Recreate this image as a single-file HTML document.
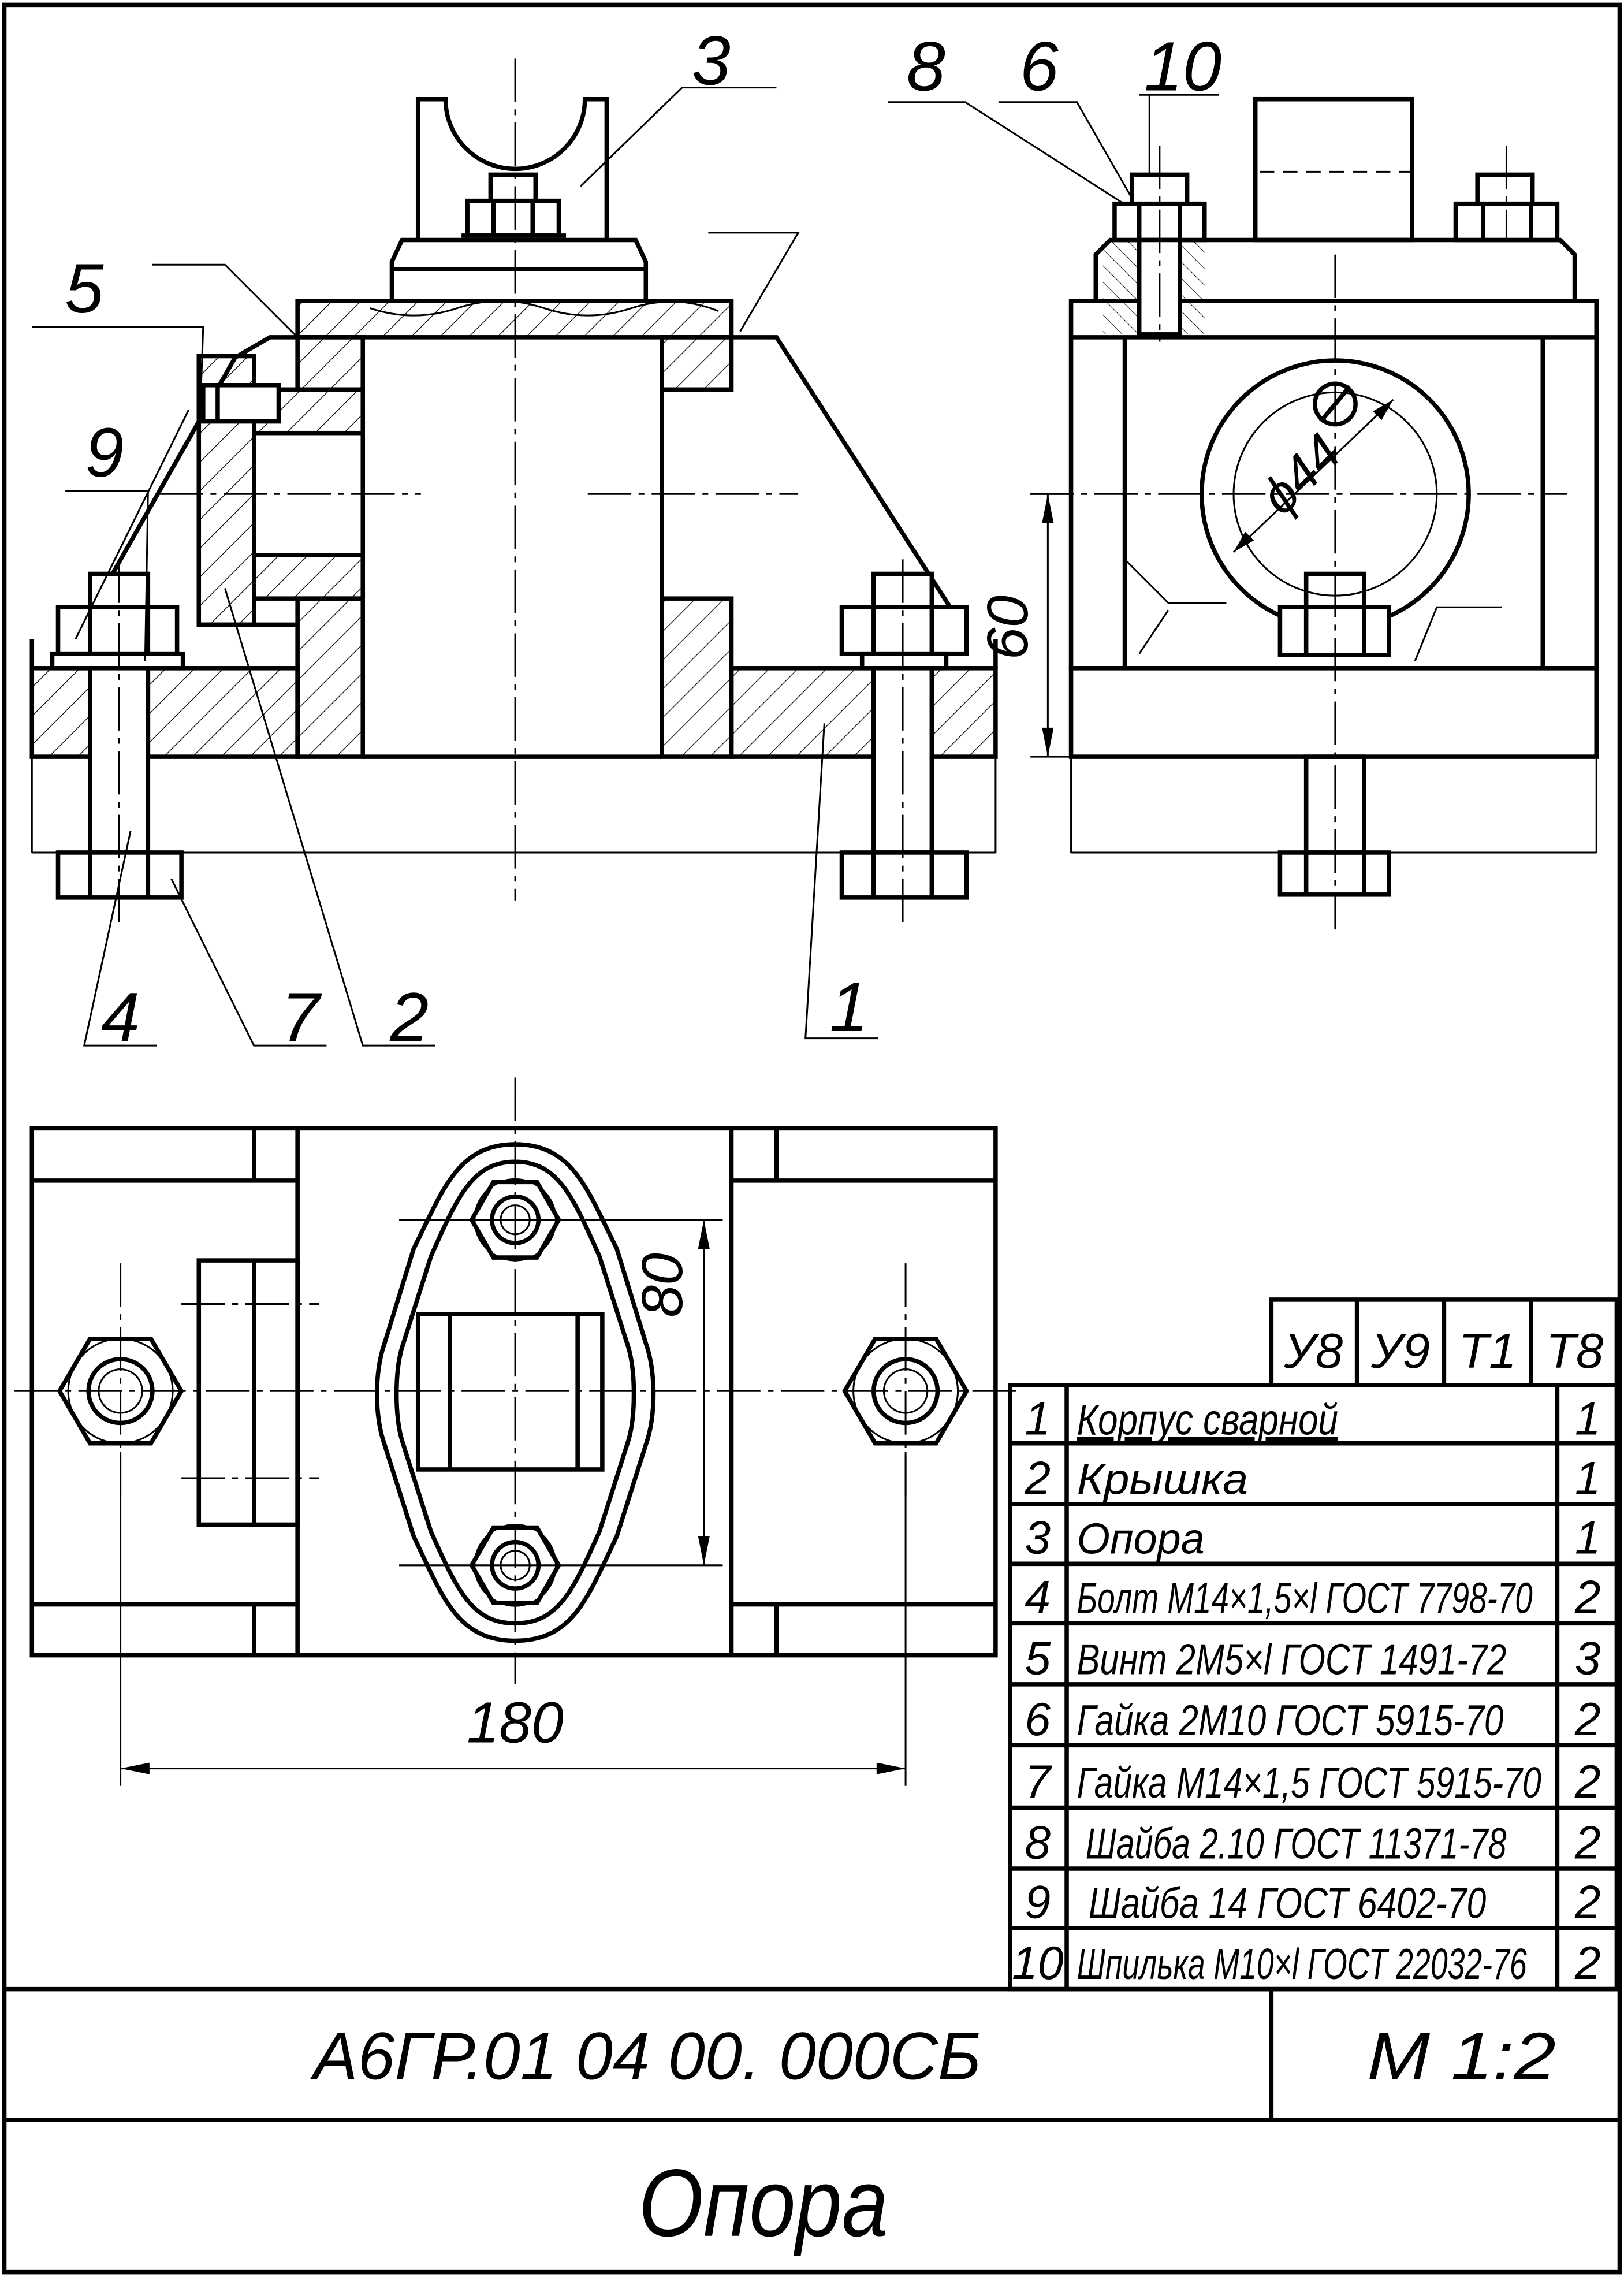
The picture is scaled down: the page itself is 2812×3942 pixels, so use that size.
<!DOCTYPE html>
<html><head><meta charset="utf-8">
<style>
html,body{margin:0;padding:0;background:#fff;}
svg{display:block;}
text{font-family:"Liberation Sans","DejaVu Sans",sans-serif;font-style:italic;fill:#000;}
</style></head><body>
<svg width="2812" height="3942" viewBox="0 0 1119 1568" xmlns="http://www.w3.org/2000/svg">
<defs>
<pattern id="h" width="14" height="14" patternUnits="userSpaceOnUse" patternTransform="rotate(45)">
<line x1="0" y1="0" x2="0" y2="14" stroke="#000" stroke-width="1"/>
</pattern>
<pattern id="h2" width="8" height="8" patternUnits="userSpaceOnUse" patternTransform="rotate(-45)">
<line x1="0" y1="0" x2="0" y2="8" stroke="#000" stroke-width="0.8"/>
</pattern>
</defs>
<rect width="1119" height="1568" fill="#fff"/>
<g fill="none" stroke="#000" stroke-width="3">
<rect x="3" y="3" width="1113" height="1562"/>
<line x1="3" y1="1370" x2="1116" y2="1370"/>
<line x1="3" y1="1460" x2="1116" y2="1460"/>
<line x1="876" y1="1370" x2="876" y2="1460"/>
</g>
<text x="216" y="1432" font-size="46" textLength="460" lengthAdjust="spacingAndGlyphs">А6ГР.01 04  00.  000СБ</text>
<text x="942" y="1432" font-size="46" textLength="130" lengthAdjust="spacingAndGlyphs">М   1:2</text>
<text x="440" y="1540" font-size="66" textLength="172" lengthAdjust="spacingAndGlyphs">Опора</text>

<!-- parts table -->
<g fill="none" stroke="#000" stroke-width="3">
<rect x="696" y="954" width="418" height="416"/>
<line x1="735" y1="954" x2="735" y2="1370"/>
<line x1="1073" y1="954" x2="1073" y2="1370"/>
<line x1="696" y1="994" x2="1114" y2="994"/>
<line x1="696" y1="1036" x2="1114" y2="1036"/>
<line x1="696" y1="1077" x2="1114" y2="1077"/>
<line x1="696" y1="1118" x2="1114" y2="1118"/>
<line x1="696" y1="1160" x2="1114" y2="1160"/>
<line x1="696" y1="1202" x2="1114" y2="1202"/>
<line x1="696" y1="1245" x2="1114" y2="1245"/>
<line x1="696" y1="1287" x2="1114" y2="1287"/>
<line x1="696" y1="1328" x2="1114" y2="1328"/>
<rect x="876" y="895" width="238" height="59"/>
<line x1="935" y1="895" x2="935" y2="954"/>
<line x1="995" y1="895" x2="995" y2="954"/>
<line x1="1055" y1="895" x2="1055" y2="954"/>
</g>
<g font-size="34" text-anchor="middle">
<text x="905" y="942">У8</text><text x="965" y="942">У9</text><text x="1025" y="942">Т1</text><text x="1085" y="942">Т8</text>
</g>
<g font-size="32" text-anchor="middle">
<text x="715" y="988">1</text><text x="715" y="1029">2</text><text x="715" y="1070">3</text><text x="715" y="1111">4</text><text x="715" y="1153">5</text><text x="715" y="1195">6</text><text x="715" y="1238">7</text><text x="715" y="1280">8</text><text x="715" y="1321">9</text><text x="715" y="1363">10</text>
<text x="1094" y="988">1</text><text x="1094" y="1029">1</text><text x="1094" y="1070">1</text><text x="1094" y="1111">2</text><text x="1094" y="1153">3</text><text x="1094" y="1195">2</text><text x="1094" y="1238">2</text><text x="1094" y="1280">2</text><text x="1094" y="1321">2</text><text x="1094" y="1363">2</text>
</g>
<g font-size="30">
<text x="742" y="988" textLength="180" lengthAdjust="spacingAndGlyphs" text-decoration="underline">Корпус сварной</text>
<text x="742" y="1029" textLength="118" lengthAdjust="spacingAndGlyphs">Крышка</text>
<text x="742" y="1070" textLength="88" lengthAdjust="spacingAndGlyphs">Опора</text>
<text x="742" y="1111" textLength="314" lengthAdjust="spacingAndGlyphs">Болт М14×1,5×l ГОСТ 7798-70</text>
<text x="742" y="1153" textLength="296" lengthAdjust="spacingAndGlyphs">Винт 2М5×l ГОСТ 1491-72</text>
<text x="742" y="1195" textLength="294" lengthAdjust="spacingAndGlyphs">Гайка 2М10 ГОСТ 5915-70</text>
<text x="742" y="1238" textLength="320" lengthAdjust="spacingAndGlyphs">Гайка М14×1,5 ГОСТ 5915-70</text>
<text x="748" y="1280" textLength="290" lengthAdjust="spacingAndGlyphs">Шайба 2.10 ГОСТ 11371-78</text>
<text x="750" y="1321" textLength="274" lengthAdjust="spacingAndGlyphs">Шайба 14 ГОСТ 6402-70</text>
<text x="742" y="1363" textLength="310" lengthAdjust="spacingAndGlyphs">Шпилька М10×l ГОСТ 22032-76</text>
</g>

<!-- FRONT VIEW -->
<g stroke="#000" stroke-width="3">
<g fill="url(#h)">
<rect x="22" y="460" width="40" height="61"/>
<rect x="102" y="460" width="103" height="61"/>
<rect x="205" y="412" width="45" height="109"/>
<rect x="456" y="412" width="48" height="109"/>
<rect x="504" y="460" width="98" height="61"/>
<rect x="642" y="460" width="44" height="61"/>
<rect x="205" y="207" width="299" height="25"/>
<rect x="205" y="232" width="45" height="36"/>
<rect x="456" y="232" width="48" height="36"/>
<rect x="175" y="268" width="75" height="30"/>
<rect x="175" y="382" width="75" height="30"/>
<rect x="137" y="245" width="38" height="185"/>
</g>
<g fill="none">
<line x1="250" y1="232" x2="250" y2="521"/>
<line x1="456" y1="232" x2="456" y2="521"/>
<line x1="250" y1="521" x2="456" y2="521"/>
<line x1="175" y1="298" x2="175" y2="430"/>
<line x1="137" y1="430" x2="205" y2="430"/>
<line x1="456" y1="268" x2="456" y2="412"/>
<polyline points="205,232 186,232 162,246 52,440"/>
<polyline points="504,232 535,232 656,420"/>
<line x1="22" y1="460" x2="22" y2="440"/>
<line x1="686" y1="460" x2="686" y2="440"/>
<polygon points="270,207 445,207 445,180 438,165 277,165 270,180" fill="#fff"/>
<line x1="270" y1="185" x2="445" y2="185"/>
<path d="M288,165 V68 H307 A48,48 0 0 0 403,68 H418 V165"/>
<rect x="322" y="138" width="63" height="24" fill="#fff"/>
<line x1="340" y1="138" x2="340" y2="162"/><line x1="367" y1="138" x2="367" y2="162"/>
<rect x="338" y="120" width="31" height="18" fill="#fff"/>
<line x1="318" y1="162" x2="390" y2="162"/>
<rect x="62" y="395" width="40" height="23" fill="#fff"/>
<rect x="40" y="418" width="82" height="32" fill="#fff"/>
<line x1="62" y1="418" x2="62" y2="450"/><line x1="102" y1="418" x2="102" y2="450"/>
<rect x="36" y="450" width="90" height="10" fill="#fff"/>
<rect x="62" y="460" width="40" height="127" fill="#fff"/>
<rect x="40" y="587" width="85" height="31" fill="#fff"/>
<line x1="62" y1="587" x2="62" y2="618"/><line x1="102" y1="587" x2="102" y2="618"/>
<rect x="602" y="395" width="40" height="23" fill="#fff"/>
<rect x="580" y="418" width="86" height="32" fill="#fff"/>
<line x1="602" y1="418" x2="602" y2="450"/><line x1="642" y1="418" x2="642" y2="450"/>
<rect x="594" y="450" width="58" height="10" fill="#fff"/>
<rect x="602" y="460" width="40" height="127" fill="#fff"/>
<rect x="580" y="587" width="86" height="31" fill="#fff"/>
<line x1="602" y1="587" x2="602" y2="618"/><line x1="642" y1="587" x2="642" y2="618"/>
<rect x="140" y="265" width="52" height="25" fill="#fff"/>
<line x1="150" y1="265" x2="150" y2="290"/>
</g>
</g>
<g stroke="#000" stroke-width="1.2" fill="none">
<line x1="22" y1="521" x2="22" y2="587"/><line x1="686" y1="521" x2="686" y2="587"/>
<line x1="22" y1="587" x2="686" y2="587"/>
<path d="M255,212 q30,10 60,0 t60,0 t60,0 t60,2" />
<g stroke-dasharray="30,5,4,5">
<line x1="355" y1="40" x2="355" y2="620"/>
<line x1="82" y1="385" x2="82" y2="640"/>
<line x1="622" y1="385" x2="622" y2="640"/>
<line x1="110" y1="340" x2="290" y2="340"/>
<line x1="405" y1="340" x2="550" y2="340"/>
</g>
<polyline points="400,128 470,60 535,60"/>
<polyline points="22,225 140,225 138,282"/>
<polyline points="105,182 155,182 205,232"/>
<polyline points="510,228 550,160 488,160"/>
<polyline points="45,338 102,338 100,455"/>
<line x1="130" y1="282" x2="52" y2="440"/>
<polyline points="90,572 58,720 108,720"/>
<polyline points="118,605 175,720 225,720"/>
<polyline points="155,405 250,720 300,720"/>
<polyline points="568,498 555,715 605,715"/>
<polyline points="612,70 665,70 790,150"/>
<polyline points="688,70 742,70 785,145"/>
<polyline points="785,65 840,65"/><line x1="792" y1="65" x2="792" y2="128"/>
</g>
<g font-size="48" text-anchor="middle">
<text x="490" y="58">3</text><text x="638" y="62">8</text><text x="716" y="62">6</text><text x="815" y="62">10</text>
<text x="58" y="215">5</text><text x="72" y="328">9</text>
<text x="83" y="717">4</text><text x="207" y="717">7</text><text x="282" y="717">2</text><text x="585" y="710">1</text>
</g>

<!-- SIDE VIEW -->
<g stroke="#000" stroke-width="3" fill="none">
<rect x="738" y="460" width="362" height="61"/>
<rect x="738" y="207" width="362" height="253"/>
<line x1="775" y1="232" x2="775" y2="460"/><line x1="1063" y1="232" x2="1063" y2="460"/>
<line x1="738" y1="232" x2="1100" y2="232"/>
<polygon points="755,207 1085,207 1085,175 1075,165 765,165 755,175" fill="#fff"/>
<rect x="865" y="68" width="108" height="97"/>
<circle cx="920" cy="340" r="92"/>
<circle cx="920" cy="278" r="14" fill="#fff"/>
<line x1="910" y1="290" x2="930" y2="266"/>
<rect x="768" y="140" width="62" height="25" fill="#fff"/>
<line x1="785" y1="140" x2="785" y2="165"/><line x1="813" y1="140" x2="813" y2="165"/>
<rect x="780" y="120" width="38" height="20" fill="#fff"/>
<rect x="1003" y="140" width="70" height="25" fill="#fff"/>
<line x1="1022" y1="140" x2="1022" y2="165"/><line x1="1055" y1="140" x2="1055" y2="165"/>
<rect x="1018" y="120" width="38" height="20" fill="#fff"/>
<rect x="900" y="395" width="40" height="23" fill="#fff"/>
<rect x="882" y="418" width="75" height="33" fill="#fff"/>
<line x1="900" y1="418" x2="900" y2="451"/><line x1="940" y1="418" x2="940" y2="451"/>
<rect x="900" y="521" width="40" height="66"/>
<rect x="882" y="587" width="75" height="29"/>
<line x1="900" y1="587" x2="900" y2="616"/><line x1="940" y1="587" x2="940" y2="616"/>
<rect x="760" y="165" width="70" height="65" fill="url(#h2)" stroke="none"/>
<rect x="785" y="165" width="28" height="65" fill="#fff"/>
</g>
<g stroke="#000" stroke-width="1.2" fill="none">
<circle cx="920" cy="340" r="70"/>
<line x1="738" y1="521" x2="738" y2="587"/><line x1="1100" y1="521" x2="1100" y2="587"/>
<line x1="738" y1="587" x2="1100" y2="587"/>
<line x1="868" y1="118" x2="973" y2="118" stroke-dasharray="10,6"/>
<line x1="850" y1="380" x2="960" y2="275"/>
<path d="M775,385 L805,415 L845,415"/><path d="M785,450 L805,420"/>
<path d="M975,455 L990,418 L1035,418"/>
<g stroke-dasharray="30,5,4,5">
<line x1="920" y1="175" x2="920" y2="640"/>
<line x1="710" y1="340" x2="1080" y2="340"/>
<line x1="799" y1="100" x2="799" y2="235"/>
<line x1="1038" y1="100" x2="1038" y2="165"/>
</g>
<line x1="710" y1="340" x2="738" y2="340"/>
<line x1="710" y1="521" x2="738" y2="521"/>
<line x1="722" y1="340" x2="722" y2="521"/>
</g>
<g fill="#000">
<polygon points="722,340 718,360 726,360"/><polygon points="722,521 718,501 726,501"/>
<polygon points="960,275 946,283 952,289"/><polygon points="850,380 864,372 858,366"/>
</g>
<text x="708" y="432" font-size="40" text-anchor="middle" transform="rotate(-90 708 432)">60</text>
<text x="905" y="335" font-size="36" text-anchor="middle" transform="rotate(-45 905 335)">ϕ44</text>

<!-- TOP VIEW -->
<g stroke="#000" stroke-width="3" fill="none">
<rect x="22" y="777" width="664" height="363"/>
<line x1="175" y1="777" x2="175" y2="813"/><line x1="175" y1="1105" x2="175" y2="1140"/>
<line x1="205" y1="777" x2="205" y2="1140"/><line x1="504" y1="777" x2="504" y2="1140"/>
<line x1="535" y1="777" x2="535" y2="813"/><line x1="535" y1="1105" x2="535" y2="1140"/>
<line x1="22" y1="813" x2="205" y2="813"/><line x1="504" y1="813" x2="686" y2="813"/>
<line x1="22" y1="1105" x2="205" y2="1105"/><line x1="504" y1="1105" x2="686" y2="1105"/>
<rect x="137" y="868" width="68" height="182"/>
<line x1="175" y1="868" x2="175" y2="1050"/>
<path d="M355,788 C395,788 405,820 425,860 L445,925 C452,945 452,975 445,995 L425,1058 C405,1100 395,1130 355,1130 C315,1130 305,1100 285,1058 L265,995 C258,975 258,945 265,925 L285,860 C305,820 315,788 355,788 Z"/>
<path d="M355,800 C385,800 395,825 413,865 L433,928 C438,945 438,975 433,992 L413,1055 C395,1095 385,1118 355,1118 C325,1118 315,1095 297,1055 L277,992 C272,975 272,945 277,928 L297,865 C315,825 325,800 355,800 Z"/>
<rect x="288" y="905" width="127" height="107"/>
<line x1="310" y1="905" x2="310" y2="1012"/><line x1="398" y1="905" x2="398" y2="1012"/>
<polygon points="385,840 370,866 340,866 325,840 340,814 370,814"/>
<polygon points="385,1078 370,1104 340,1104 325,1078 340,1052 370,1052"/>
<circle cx="355" cy="840" r="16"/><circle cx="355" cy="1078" r="16"/>
<polygon points="125,958 104,994 62,994 41,958 62,922 104,922"/>
<polygon points="666,958 645,994 603,994 582,958 603,922 645,922"/>
<circle cx="83" cy="958" r="22"/><circle cx="624" cy="958" r="22"/>
</g>
<g stroke="#000" stroke-width="1.2" fill="none">
<circle cx="355" cy="840" r="10"/><circle cx="355" cy="1078" r="10"/>
<circle cx="83" cy="958" r="15"/><circle cx="624" cy="958" r="15"/>
<circle cx="355" cy="840" r="28"/><circle cx="355" cy="1078" r="28"/>
<circle cx="83" cy="958" r="36"/><circle cx="624" cy="958" r="36"/>
<g stroke-dasharray="30,5,4,5">
<line x1="355" y1="742" x2="355" y2="1160"/>
<line x1="10" y1="958" x2="700" y2="958"/>
<line x1="83" y1="870" x2="83" y2="1030"/>
<line x1="624" y1="870" x2="624" y2="1030"/>
<line x1="125" y1="898" x2="220" y2="898"/><line x1="125" y1="1018" x2="220" y2="1018"/>
</g>
<line x1="275" y1="840" x2="498" y2="840"/><line x1="275" y1="1078" x2="498" y2="1078"/>
<line x1="485" y1="840" x2="485" y2="1078"/>
<line x1="83" y1="1000" x2="83" y2="1230"/><line x1="624" y1="1000" x2="624" y2="1230"/>
<line x1="83" y1="1218" x2="624" y2="1218"/>
</g>
<g fill="#000">
<polygon points="485,840 481,860 489,860"/><polygon points="485,1078 481,1058 489,1058"/>
<polygon points="83,1218 103,1214 103,1222"/><polygon points="624,1218 604,1214 604,1222"/>
</g>
<text x="470" y="885" font-size="40" text-anchor="middle" transform="rotate(-90 470 885)">80</text>
<text x="355" y="1200" font-size="40" text-anchor="middle">180</text>
</svg>
</body></html>
